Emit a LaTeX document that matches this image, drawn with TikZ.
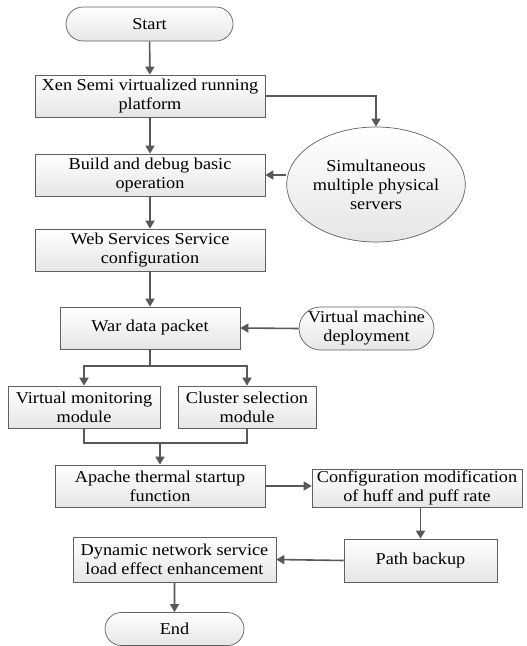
\documentclass[tikz,border=0pt]{standalone}
\usepackage{fontspec}
\setmainfont{Liberation Serif}[FakeStretch=1.1]
\usetikzlibrary{shapes.misc,shapes.geometric,arrows.meta}
\definecolor{edgec}{HTML}{585858}
\definecolor{bordc}{HTML}{606060}
\begin{document}
\begin{tikzpicture}[x=1pt,y=-1pt,
 base/.style={draw=bordc, line width=0.7pt, top color=white, bottom color=black!10,
   inner sep=0pt, align=center, font=\fontsize{16.6}{19}\selectfont},
 box/.style={base, rectangle},
 term/.style={base, rounded rectangle},
 oval/.style={base, ellipse},
 arr/.style={draw=edgec, line width=1.6pt, -{Triangle[length=8pt,width=9pt]}},
 ln/.style={draw=edgec, line width=1.6pt}]
\useasboundingbox (0,0) rectangle (527,646);
\node[term, minimum width=167pt, minimum height=34pt] (start) at (149.5,24) {Start};
\node[box, minimum width=230pt, minimum height=42pt] (xen) at (150,96) {Xen Semi virtualized running\\platform};
\node[box, minimum width=230pt, minimum height=42pt] (build) at (150,175) {Build and debug basic\\operation};
\node[oval, minimum width=138pt, minimum height=115pt] (sim) at (376,184.5) {Simultaneous\\multiple physical\\servers};
\node[box, minimum width=230pt, minimum height=42pt] (web) at (150,250) {Web Services Service\\configuration};
\node[box, minimum width=180pt, minimum height=42pt] (war) at (150,328) {War data packet};
\node[term, minimum width=135pt, minimum height=43pt] (vmd) at (366.5,328.5) {Virtual machine\\deployment};
\node[box, minimum width=152pt, minimum height=42pt] (vmon) at (84,407) {Virtual monitoring\\module};
\node[box, minimum width=138pt, minimum height=42pt] (clus) at (247,407) {Cluster selection\\module};
\node[box, minimum width=210pt, minimum height=42pt] (apa) at (160,486) {Apache thermal startup\\function};
\node[box, minimum width=210pt, minimum height=38pt] (conf) at (417,488) {Configuration modification\\of huff and puff rate};
\node[box, minimum width=153pt, minimum height=43pt] (path) at (420.5,560.5) {Path backup};
\node[box, minimum width=203pt, minimum height=45pt] (dyn) at (174.5,559.5) {Dynamic network service\\load effect enhancement};
\node[term, minimum width=139pt, minimum height=33pt] (end) at (174.5,629) {End};
\coordinate (split) at (150,366);
\coordinate (join) at (160,443);
\draw[arr] (start) -- (xen);
\draw[arr] (xen.east) -| (sim.north);
\draw[arr] (xen) -- (build);
\draw[arr] (sim.west |- build.east) -- (build.east);
\draw[arr] (build) -- (web);
\draw[arr] (web) -- (war);
\draw[arr] (vmd.west) -- (war.east);
\draw[ln] (war.south) -- (split);
\draw[arr] (split) -| (vmon.north);
\draw[arr] (split) -| (clus.north);
\draw[ln] (vmon.south) |- (clus.south |- join) -- (clus.south);
\draw[arr] (join) -- (apa.north);
\draw[arr] (apa.east) -- (apa.east -| conf.west);
\draw[arr] (path.north |- conf.south) -- (path.north);
\draw[arr] (path.west) -- (dyn.east);
\draw[arr] (dyn) -- (end);
\end{tikzpicture}
\end{document}
